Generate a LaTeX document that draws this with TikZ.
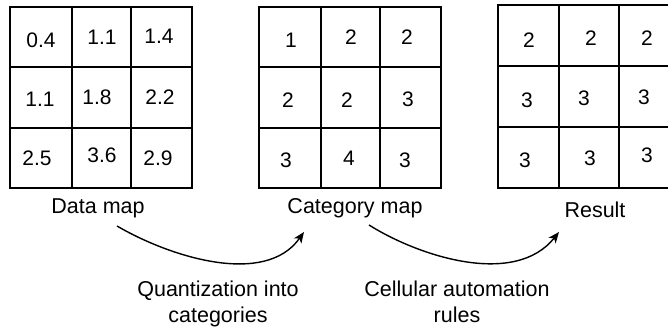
\documentclass[tikz,border=0pt]{standalone}
\usepackage{fontspec}
\setmainfont{Liberation Sans}
\usetikzlibrary{arrows.meta}
\begin{document}
\begin{tikzpicture}[x=1pt,y=-1pt,
  gridline/.style={line width=1.6pt},
  cell/.style={inner sep=0pt,font=\fontsize{21}{24}\selectfont},
  lbl/.style={inner sep=0pt,font=\fontsize{21.5}{26}\selectfont,align=center},
  flow/.style={line width=1.4pt,-{Stealth[length=11pt,width=9pt,inset=3pt]}}]
\useasboundingbox (0,0) rectangle (668,328);
\clip (0,0) rectangle (668,328);
% grid 1
\draw[gridline] (10,7) rectangle (192,188);
\draw[gridline] (72,7) -- (72,188) (131,7) -- (131,188) (10,67) -- (192,67) (10,128) -- (192,128);
% grid 2
\draw[gridline] (259,7) rectangle (441,188);
\draw[gridline] (321,7) -- (321,188) (380,7) -- (380,188) (259,67) -- (441,67) (259,128) -- (441,128);
% grid 3
\draw[gridline] (498,5) rectangle (680,188);
\draw[gridline] (559,5) -- (559,188) (619,5) -- (619,188) (498,66) -- (680,66) (498,127) -- (680,127);
% grid 1 values
\node[cell] (a11) at (41,40) {0.4};
\node[cell] (a12) at (102,37) {1.1};
\node[cell] (a13) at (159,36) {1.4};
\node[cell] (a21) at (40,99) {1.1};
\node[cell] (a22) at (97,97) {1.8};
\node[cell] (a23) at (160,97) {2.2};
\node[cell] (a31) at (37,158) {2.5};
\node[cell] (a32) at (102,155) {3.6};
\node[cell] (a33) at (158,158) {2.9};
% grid 2 values
\node[cell] (b11) at (291,40) {1};
\node[cell] (b12) at (351,37) {2};
\node[cell] (b13) at (407,37) {2};
\node[cell] (b21) at (288,100) {2};
\node[cell] (b22) at (347,100) {2};
\node[cell] (b23) at (408,99) {3};
\node[cell] (b31) at (286,160) {3};
\node[cell] (b32) at (349,158) {4};
\node[cell] (b33) at (405,160) {3};
% grid 3 values
\node[cell] (c11) at (529,40) {2};
\node[cell] (c12) at (591,38) {2};
\node[cell] (c13) at (647,38) {2};
\node[cell] (c21) at (527,100) {3};
\node[cell] (c22) at (584,98) {3};
\node[cell] (c23) at (644,97) {3};
\node[cell] (c31) at (525,160) {3};
\node[cell] (c32) at (590,158) {3};
\node[cell] (c33) at (647,155) {3};
% labels
\node[lbl] (ldata) at (98,208) {Data map};
\node[lbl] (lcat) at (355,208) {Category map};
\node[lbl] (lres) at (595,210) {Result};
\node[lbl] (lq) at (218,304) {Quantization into\\categories};
\node[lbl] (lc) at (457,302) {Cellular automation\\rules};
% arrows
\coordinate (s1) at (117,226);
\coordinate (e1) at (304,232);
\coordinate (s2) at (369,225);
\coordinate (e2) at (559,232);
\draw[flow] (s1) .. controls (170,257) and (265,287) .. (e1);
\draw[flow] (s2) .. controls (420,257) and (515,287) .. (e2);
\end{tikzpicture}
\end{document}
